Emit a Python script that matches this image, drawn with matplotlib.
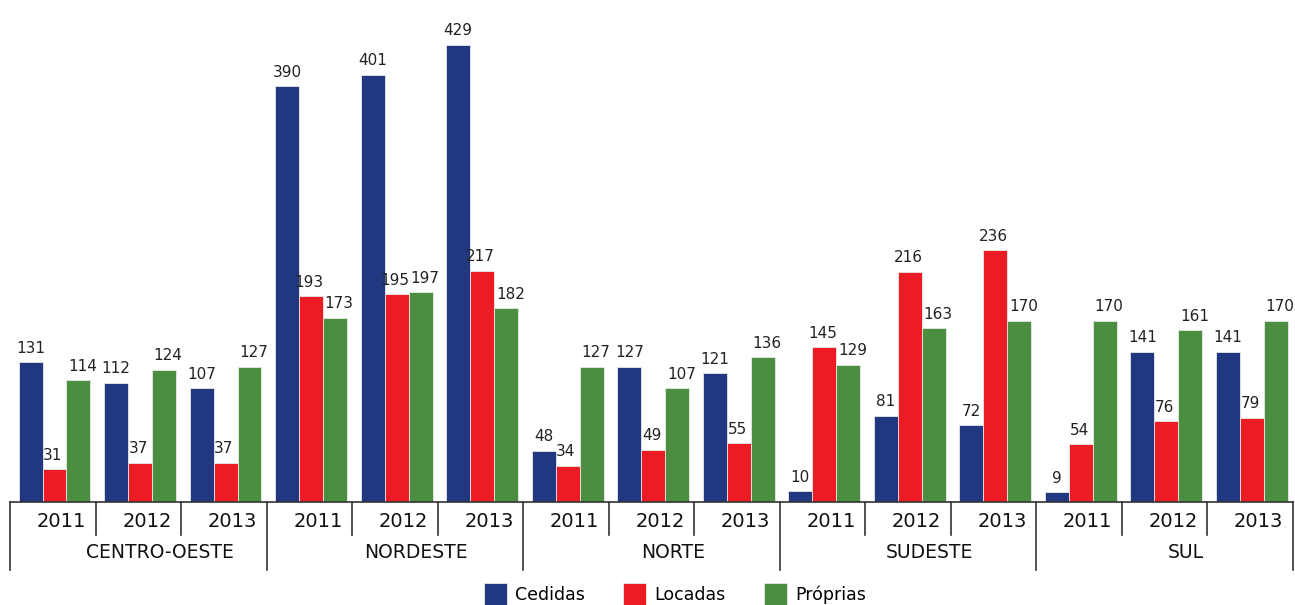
import numpy as np
import matplotlib.pyplot as plt

# Dados
regioes = ["CENTRO-OESTE", "NORDESTE", "NORTE", "SUDESTE", "SUL"]
anos = ["2011", "2012", "2013"]
cedidas = [131, 112, 107, 390, 401, 429, 48, 127, 121, 10, 81, 72, 9, 141, 141]
locadas = [31, 37, 37, 193, 195, 217, 34, 49, 55, 145, 216, 236, 54, 76, 79]
proprias = [114, 124, 127, 173, 197, 182, 127, 107, 136, 129, 163, 170, 170, 161, 170]

series = [("Cedidas", cedidas, "#21377f"),
          ("Locadas", locadas, "#ed1c24"),
          ("Próprias", proprias, "#4b8e40")]

plt.rcParams['font.family'] = ['DejaVu Sans']

fig = plt.figure(figsize=(12.95, 6.05), dpi=100)
ax = fig.add_axes([10 / 1295, 103 / 605, 1283 / 1295, 502 / 605])

n = len(cedidas)
x = np.arange(n)
w = 0.28
desloc = [0.0, -0.02, 0.05]  # pequeno ajuste horizontal dos rótulos

for k, (nome, vals, cor) in enumerate(series):
    pos = x + (k - 1) * w + 0.02
    ax.bar(pos, vals, width=w, color=cor, edgecolor="#e8e8e8", linewidth=0.6, label=nome)
    for xi, v in zip(pos, vals):
        ax.text(xi + desloc[k], v + 6, str(v), ha="center", va="bottom",
                fontsize=11, color="#222222")

ax.set_xlim(-0.5, n - 0.5)
ax.set_ylim(0, 471)
ax.set_xticks([])
ax.set_yticks([])
for s in ["top", "right", "left"]:
    ax.spines[s].set_visible(False)
ax.spines["bottom"].set_linewidth(1.2)
ax.spines["bottom"].set_color("#333333")

# Eixo categórico em dois níveis
tr = ax.get_xaxis_transform()
for i in range(n + 1):
    bottom = -0.135 if i % 3 == 0 else -0.066
    ax.plot([i - 0.5, i - 0.5], [0, bottom], transform=tr, color="#333333",
            lw=1.2, clip_on=False)
for i in range(n):
    ax.text(i + 0.1, -0.038, anos[i % 3], transform=tr, ha="center", va="center",
            fontsize=14, color="#111111")
for j, r in enumerate(regioes):
    ax.text(3 * j + 1.25, -0.1, r, transform=tr, ha="center", va="center",
            fontsize=13.5, color="#111111")

ax.legend(loc="lower center", bbox_to_anchor=(675 / 1295, -0.025), bbox_transform=fig.transFigure,
          ncol=3, frameon=False, fontsize=12.5, handlelength=1.3, handleheight=1.5,
          columnspacing=2.2, handletextpad=0.5)

fig.savefig("out.png", dpi=100)
